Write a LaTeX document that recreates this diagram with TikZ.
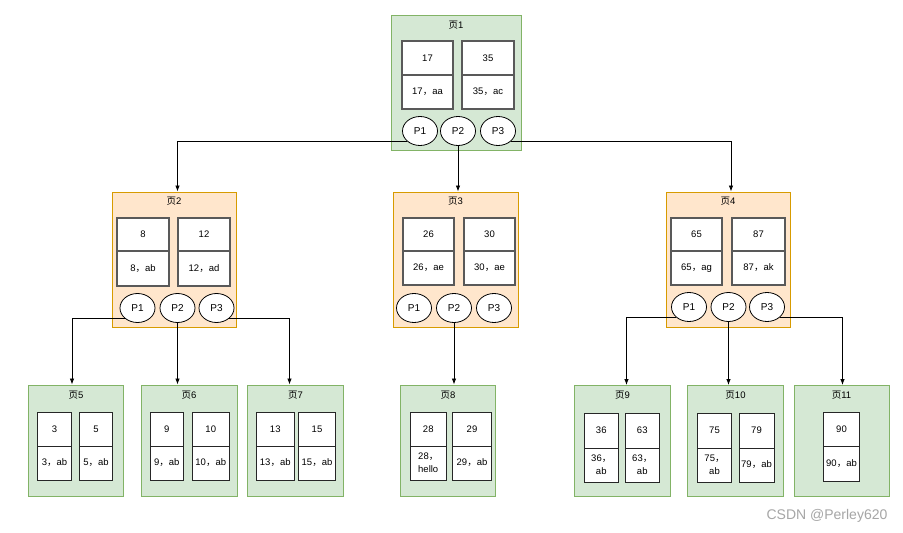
\documentclass[tikz,border=0pt]{standalone}
\usepackage{fontspec}
\setmainfont{Liberation Sans}
\newfontfamily\cjk{Noto Sans CJK SC}
\usetikzlibrary{arrows.meta,shapes.geometric,calc}
\definecolor{gfill}{HTML}{D5E8D4}
\definecolor{gdraw}{HTML}{82B366}
\definecolor{ofill}{HTML}{FFE6CC}
\definecolor{odraw}{HTML}{D79B00}
\newcommand\zc{{\cjk ，}}
\newcommand\ye{{\cjk 页}}
% #1 style, #2 name, #3 xl, #4 xr, #5 yt, #6 ym, #7 yb, #8 top text, #9 bottom text
\newcommand\mkcell[9]{%
  \node[#1, minimum width={(#4-#3)*1pt}, minimum height={(#6-#5)*1pt}] (#2a) at ({(#3+#4)/2},{(#5+#6)/2}) {#8};
  \node[#1, minimum width={(#4-#3)*1pt}, minimum height={(#7-#6)*1pt}] (#2b) at ({(#3+#4)/2},{(#6+#7)/2}) {#9};
}
\begin{document}
\begin{tikzpicture}[x=1pt,y=-1pt,
  gpage/.style={draw=gdraw, fill=gfill, line width=1pt, inner sep=0},
  opage/.style={draw=odraw, fill=ofill, line width=1pt, inner sep=0},
  ttl/.style={font=\fontsize{9.5}{10}\selectfont, inner sep=0},
  cellU/.style={draw=black!65, line width=1.3pt, fill=white, inner sep=0, font=\fontsize{9.5}{13}\selectfont, align=center},
  cellL/.style={draw=black!85, line width=0.9pt, fill=white, inner sep=0, font=\fontsize{9.5}{13}\selectfont, align=center},
  pell/.style={ellipse, draw=black, line width=0.8pt, fill=white, minimum width=35pt, minimum height=29pt, inner sep=0, font=\fontsize{10}{11}\selectfont},
  link/.style={draw=black, line width=0.8pt, -{Latex[length=6pt,width=4.5pt]}}
]
\useasboundingbox (0,0) rectangle (903,533);
\fill[white] (0,0) rectangle (903,533);

% pages
\node[gpage, minimum width=130pt, minimum height=135pt] (pg1) at (456,82.5) {};
\node[opage, minimum width=124pt, minimum height=135pt] (pg2) at (174,259.5) {};
\node[opage, minimum width=125pt, minimum height=135pt] (pg3) at (455.5,259.5) {};
\node[opage, minimum width=124pt, minimum height=135pt] (pg4) at (728,259.5) {};
\node[gpage, minimum width=95pt, minimum height=111pt] (pg5) at (76,440.5) {};
\node[gpage, minimum width=96pt, minimum height=111pt] (pg6) at (189,440.5) {};
\node[gpage, minimum width=96pt, minimum height=111pt] (pg7) at (295.5,440.5) {};
\node[gpage, minimum width=95pt, minimum height=111pt] (pg8) at (448,440.5) {};
\node[gpage, minimum width=96pt, minimum height=111pt] (pg9) at (622.5,441) {};
\node[gpage, minimum width=96pt, minimum height=111pt] (pg10) at (735.5,441) {};
\node[gpage, minimum width=95pt, minimum height=111pt] (pg11) at (841.5,441) {};

% titles
\node[ttl] (t1) at (456,25.5) {\ye 1};
\node[ttl] (t2) at (174,201.5) {\ye 2};
\node[ttl] (t3) at (455.5,201.5) {\ye 3};
\node[ttl] (t4) at (728,201.5) {\ye 4};
\node[ttl] (t5) at (76,395) {\ye 5};
\node[ttl] (t6) at (189,395) {\ye 6};
\node[ttl] (t7) at (295.5,395) {\ye 7};
\node[ttl] (t8) at (448,395) {\ye 8};
\node[ttl] (t9) at (622.5,395.5) {\ye 9};
\node[ttl] (t10) at (735.5,395.5) {\ye 10};
\node[ttl] (t11) at (841.5,395.5) {\ye 11};

% cells, upper pages
\mkcell{cellU}{c11}{402}{453}{41}{75}{109}{17}{17\zc aa}
\mkcell{cellU}{c12}{462}{514}{41}{75}{109}{35}{35\zc ac}
\mkcell{cellU}{c21}{117}{169}{218}{251}{286}{8}{8\zc ab}
\mkcell{cellU}{c22}{178}{230}{218}{251}{286}{12}{12\zc ad}
\mkcell{cellU}{c31}{403}{454}{218}{251}{285}{26}{26\zc ae}
\mkcell{cellU}{c32}{464}{515}{218}{251}{285}{30}{30\zc ae}
\mkcell{cellU}{c41}{671}{722}{218}{251}{285}{65}{65\zc ag}
\mkcell{cellU}{c42}{732}{785}{218}{251}{285}{87}{87\zc ak}

% cells, leaf pages
\mkcell{cellL}{c51}{37.5}{71.5}{412}{446}{480}{3}{3\zc ab}
\mkcell{cellL}{c52}{79.5}{112.5}{412}{446}{480}{5}{5\zc ab}
\mkcell{cellL}{c61}{150}{183.5}{412}{446}{480}{9}{9\zc ab}
\mkcell{cellL}{c62}{192}{229.5}{412}{446}{480}{10}{10\zc ab}
\mkcell{cellL}{c71}{256.5}{294}{412}{446}{480}{13}{13\zc ab}
\mkcell{cellL}{c72}{298.5}{335.5}{412}{446}{480}{15}{15\zc ab}
\mkcell{cellL}{c81}{410}{446.5}{412}{446}{480}{28}{28\zc\\hello}
\mkcell{cellL}{c82}{452.5}{491.5}{412}{446}{480}{29}{29\zc ab}
\mkcell{cellL}{c91}{584}{618.5}{413}{448}{482}{36}{36\zc\\ab}
\mkcell{cellL}{c92}{625.5}{659}{413}{448}{482}{63}{63\zc\\ab}
\mkcell{cellL}{c101}{697.5}{731.5}{413}{448}{482}{75}{75\zc\\ab}
\mkcell{cellL}{c102}{739}{774}{413}{448}{482}{79}{79\zc ab}
\mkcell{cellL}{c111}{823.5}{859.5}{412}{446}{481}{90}{90\zc ab}

% pointer ellipses
\node[pell] (e11) at (420,131) {P1};
\node[pell] (e12) at (458,131) {P2};
\node[pell] (e13) at (498,131) {P3};
\node[pell] (e21) at (137.5,308) {P1};
\node[pell] (e22) at (177.5,308) {P2};
\node[pell] (e23) at (216.5,308) {P3};
\node[pell] (e31) at (414,308) {P1};
\node[pell] (e32) at (454,308) {P2};
\node[pell] (e33) at (494,308) {P3};
\node[pell] (e41) at (689,307) {P1};
\node[pell] (e42) at (728.5,307) {P2};
\node[pell] (e43) at (767,307) {P3};

% connectors
\draw[link] (e11.south west) -| (e22 |- pg2.north);
\draw[link] (e12.south) -- (e12 |- pg3.north);
\draw[link] (e13.south east) -| ($(pg4.north)+(3,0)$);
\draw[link] (e21.south west) -| ($(pg5.north)+(-4,0)$);
\draw[link] (e22.south) -- (e22 |- pg6.north);
\draw[link] (e23.south east) -| ($(pg7.north)+(-6,0)$);
\draw[link] (e32.south) -- (e32 |- pg8.north);
\draw[link] (e41.south west) -| ($(pg9.north)+(4,0)$);
\draw[link] (e42.south) -- (e42 |- pg10.north);
\draw[link] (e43.south east) -| ($(pg11.north)+(1,0)$);

% watermark
\node[text=black!35, font=\fontsize{14}{16}\selectfont, inner sep=0] (wm) at (827,516) {CSDN @Perley620};
\end{tikzpicture}
\end{document}
